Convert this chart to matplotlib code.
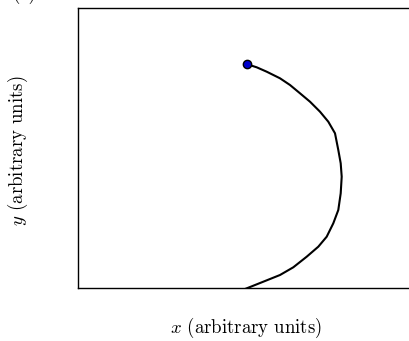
import matplotlib
matplotlib.use('Agg')
import matplotlib.pyplot as plt

plt.rcParams['font.family'] = 'serif'
plt.rcParams['font.serif'] = ['cmr10']
plt.rcParams['mathtext.fontset'] = 'cm'
plt.rcParams['axes.formatter.use_mathtext'] = True

# trajectory (arbitrary units), ends at the marked point
x = [1.62, 1.703, 1.853, 2.02, 2.153, 2.287, 2.403, 2.487, 2.553, 2.603, 2.627, 2.637,
     2.627, 2.603, 2.57, 2.503, 2.42, 2.32, 2.22, 2.12, 2.02, 1.887, 1.787, 1.693]
y = [-0.03, 0.003, 0.063, 0.13, 0.207, 0.313, 0.413, 0.513, 0.647, 0.78, 0.947, 1.113,
     1.247, 1.38, 1.547, 1.663, 1.763, 1.863, 1.947, 2.03, 2.097, 2.163, 2.207, 2.237]

fig = plt.figure(figsize=(4.10, 3.41), dpi=100)
ax = fig.add_axes([78 / 410, (341 - 288) / 341, 372 / 410, 280 / 341])

ax.plot(x, y, color='black', lw=1.5, solid_joinstyle='round', solid_capstyle='round')
ax.plot(x[-1], y[-1], 'o', color='#0000cc', mec='black', mew=1.0, ms=6)

ax.set_xlim(0, 3.72)
ax.set_ylim(0, 2.8)
ax.set_xticks([])
ax.set_yticks([])
for s in ax.spines.values():
    s.set_linewidth(1.0)

fig.text(246 / 410, 1 - 328 / 341, r'$x$ (arbitrary units)', ha='center', va='center', fontsize=13.5)
fig.text(18 / 410, 1 - 151 / 341, r'$y$ (arbitrary units)', ha='center', va='center', fontsize=13.5, rotation=90)
fig.text(24 / 410, 1 + 6 / 341, '(a)', ha='center', va='center', fontsize=13.5)

fig.savefig('out.png', dpi=100)
